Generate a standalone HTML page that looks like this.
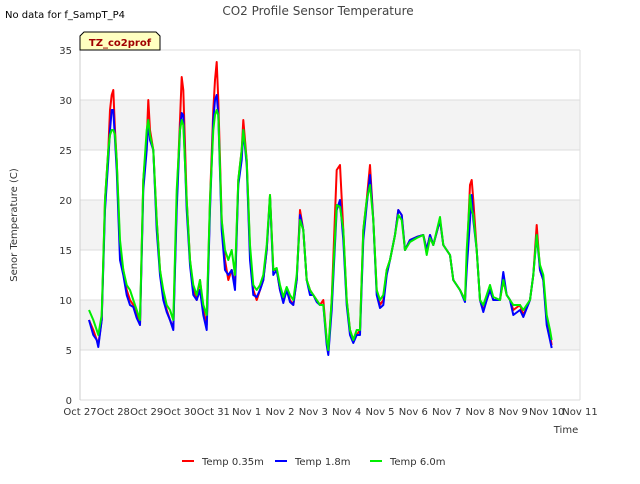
<!DOCTYPE html>
<html><head><meta charset="utf-8"><style>
body{margin:0;background:#fff;font-family:"DejaVu Sans",sans-serif;}
svg text{font-family:"DejaVu Sans","Liberation Sans",sans-serif;}
</style></head><body>
<svg id="c" width="640" height="480">
<text x="5" y="18" font-size="10" fill="#000">No data for f_SampT_P4</text>
<text x="318" y="15" font-size="12" fill="#444" text-anchor="middle">CO2 Profile Sensor Temperature</text>
<g id="plot"></g>
<g>
<path d="M80,50 L80,36 L84,32 L156,32 L160,36 L160,50 Z" fill="#ffffc0" stroke="#000" stroke-width="1"/>
<text x="120" y="46" font-size="10" font-weight="bold" fill="#a00000" text-anchor="middle">TZ_co2prof</text>
</g>
<text transform="translate(17,225) rotate(-90)" font-size="10" fill="#333" text-anchor="middle">Senor Temperature (C)</text>
<text x="566" y="433" font-size="10" fill="#333" text-anchor="middle">Time</text>
<g id="legend"></g>
</svg>
<script>
const times=[0.27,0.4,0.5,0.55,0.65,0.75,0.85,0.9,0.95,1.0,1.05,1.1,1.2,1.3,1.4,1.5,1.6,1.7,1.8,1.9,2.0,2.05,2.1,2.2,2.3,2.4,2.5,2.6,2.7,2.8,2.9,3.0,3.05,3.1,3.2,3.3,3.4,3.5,3.6,3.7,3.8,3.9,4.0,4.05,4.1,4.15,4.25,4.35,4.45,4.55,4.65,4.75,4.85,4.9,5.0,5.1,5.2,5.3,5.4,5.5,5.6,5.7,5.8,5.9,6.0,6.1,6.2,6.3,6.4,6.5,6.6,6.7,6.8,6.9,7.0,7.1,7.2,7.3,7.4,7.45,7.55,7.7,7.8,7.9,8.0,8.1,8.2,8.3,8.4,8.5,8.6,8.7,8.8,8.9,9.0,9.1,9.2,9.3,9.45,9.55,9.65,9.75,9.9,10.1,10.3,10.4,10.5,10.6,10.8,10.9,11.1,11.2,11.4,11.55,11.6,11.7,11.75,11.8,11.9,12.0,12.1,12.2,12.3,12.4,12.6,12.7,12.8,12.9,13.0,13.2,13.3,13.5,13.6,13.7,13.8,13.9,14.0,14.1,14.15];
const temp035=[8,7,6,5.5,8,20,25,29,30.5,31,27,24,15,13,11,10,9.5,8.5,7.5,22,26,30,27,25,18,13,10.5,9,8,7.2,20,28,32.3,31,20,14,11,10,12,9,7.5,20,29,32,33.8,30,18,14,12,13,11.5,22,25,28,24,15,11,10,11,12,15,20.5,13,13,11,10,11,10,9.5,12,19,17,12,11,10.5,10,9.5,10,6,4.7,10,23,23.5,17,10,7,6,6.5,7,17,20,23.5,18,11,9.5,10,13,14,16.5,19,18.5,15,16,16.3,16.5,15,16.5,15.5,18,15.5,14.5,12,11,10,14,21.5,22,20,15,10,9,10,11,10,10,12,10.5,10,9,9.5,8.5,10,12.5,17.5,13,12,8,6.5,5.5];
const temp18=[8,6.5,6,5.3,8,19,24,27,29,29,26,23,14,12.5,10.5,9.5,9.3,8.2,7.5,21,25,28,26,25,17,12.5,10,8.8,8,7,19,27,28.7,28.5,19,13.5,10.5,10,11,8.5,7,19,28,30,30.5,28.5,17,13,12.5,13,11,21.5,24,27,23.5,14,10.5,10.3,11,12,15,20.3,12.5,13,11,9.7,11,9.8,9.5,12,18.5,17,12,10.5,10.5,9.8,9.5,9.5,5.5,4.5,9,19,20,16,9.5,6.5,5.7,6.5,6.5,16,19.5,22.5,18,10.5,9.2,9.5,12.5,14,16.5,19,18.5,15,16,16.3,16.5,15,16.5,15.5,18,15.5,14.5,12,11,9.8,13,18,20.5,18,15,10,8.8,10,11,10,10,12.8,10.5,10,8.5,9,8.3,10,12.5,16.5,13,12,7.5,6,5.2];
const temp60=[9,8,7,6.5,8.5,20,25,26.5,27,27,26.5,24,16,13,11.5,11,10,9,8,22,27,28,26.5,25,18,13,11,9.5,9,8,21,27,28,27.5,20,14,11.5,10.5,12,9.5,8.5,20,27,28.5,29,28.5,18,15,14,15,12.5,22,25,27,24,15.5,11.5,11,11.5,12.5,15.5,20.5,13,13.2,11.5,10.3,11.3,10.5,10,12.5,18,17,12,11,10.5,10,9.5,9.5,6,5,10,19.5,19.3,17,10,7,6,7,7,17,20,21.5,18,11,10,10.5,13,14,16.5,18.5,18,15,15.8,16.2,16.5,14.5,16.2,15.5,18.3,15.5,14.5,12,11,10,15,20.5,19,18.5,15,10,9.5,10.5,11.5,10.3,10,12,10.5,10,9.5,9.5,9,10,12.5,16.5,13.5,12.5,8.5,7,6];
const xTicks=["Oct 27","Oct 28","Oct 29","Oct 30","Oct 31","Nov 1","Nov 2","Nov 3","Nov 4","Nov 5","Nov 6","Nov 7","Nov 8","Nov 9","Nov 10","Nov 11"];
const yTicks=[0,5,10,15,20,25,30,35];
const seriesNames=["Temp 0.35m","Temp 1.8m","Temp 6.0m"];
const seriesColors=["#ff0000","#0000ff","#00ee00"];

const NS="http://www.w3.org/2000/svg";
const L=80,R=580,T=50,B=400;
const xs=d=>L+(R-L)*d/15;
const ys=v=>B-(B-T)*v/35;
const plot=document.getElementById('plot');
function mk(tag,attrs,parent){const e=document.createElementNS(NS,tag);for(const k in attrs)e.setAttribute(k,attrs[k]);parent.appendChild(e);return e;}
for(let v=5;v<35;v+=10){
  const r=mk('rect',{x:L,y:ys(v+5),width:R-L,height:ys(v)-ys(v+5),fill:'#f3f3f3'},plot);
  
  
}
yTicks.forEach(v=>{
  const l=mk('line',{x1:L,x2:R,y1:ys(v),y2:ys(v),stroke:'#dddddd','stroke-width':1},plot);
  
  
  const t=mk('text',{x:L-8,y:ys(v)+4,'font-size':10,fill:'#333','text-anchor':'end'},plot);
  t.textContent=v;
  
  
});
mk('line',{x1:L,x2:L,y1:T,y2:B,stroke:'#ccc'},plot);
mk('line',{x1:R,x2:R,y1:T,y2:B,stroke:'#ddd'},plot);
xTicks.forEach((s,i)=>{
  const t=mk('text',{x:xs(i),y:B+15,'font-size':10,fill:'#333','text-anchor':'middle'},plot);
  t.textContent=s;
  
  
});
[temp035,temp18,temp60].forEach((vals,si)=>{
  const d=times.map((t,i)=>(i?'L':'M')+xs(t).toFixed(1)+','+ys(vals[i]).toFixed(1)).join(' ');
  const p=mk('path',{d:d,fill:'none',stroke:seriesColors[si],'stroke-width':2,'stroke-linejoin':'round'},plot);
  
  
});
const lg=document.getElementById('legend');
const lx=[182,275,370];
seriesNames.forEach((n,i)=>{
  const g=mk('g',{},lg);
  
  
  mk('line',{x1:lx[i],x2:lx[i]+12,y1:461,y2:461,stroke:seriesColors[i],'stroke-width':2},g);
  const t=mk('text',{x:lx[i]+20,y:465,'font-size':10,fill:'#333'},g);
  t.textContent=n;
});
</script>
</body></html>
